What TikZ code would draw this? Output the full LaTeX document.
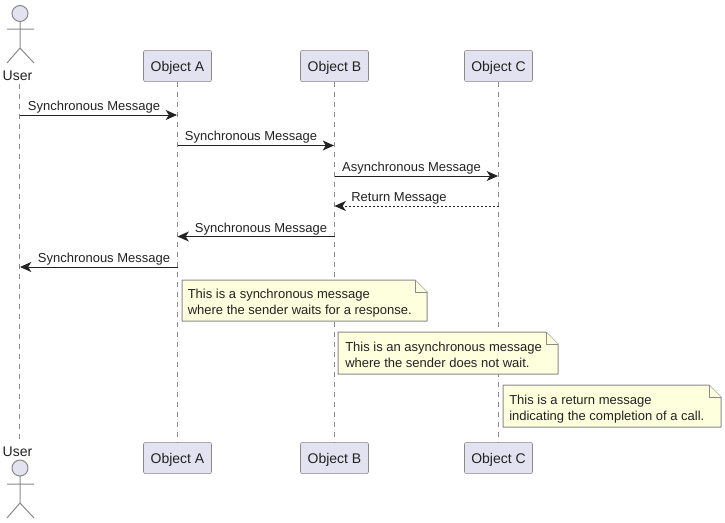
\documentclass[tikz,border=0pt]{standalone}
\usepackage{fontspec}
\setmainfont{Liberation Sans}
\usetikzlibrary{arrows.meta}
\definecolor{boxfill}{HTML}{E2E2F0}
\definecolor{notefill}{HTML}{FEFFDD}
\definecolor{linegray}{HTML}{8A8A8A}
\definecolor{inkdark}{HTML}{222222}
\tikzset{
    objbox/.style = {draw = linegray, fill = boxfill, rounded corners = 1.5pt, minimum width = 51pt, minimum height = 23.5pt, inner sep = 0pt, text = inkdark, text height = 10pt, text depth = 2pt, font = \fontsize{10.5}{12}\selectfont},
    lifeline/.style = {draw = linegray, dash pattern = on 3.75pt off 3.75pt, line width = 0.6pt},
    msg/.style = {draw = inkdark, line width = 0.7pt, -{Stealth[length = 8.5pt, width = 7.5pt, inset = 2.4pt]}},
    msgtext/.style = {text = inkdark, inner sep = 0pt, font = \fontsize{9.75}{11}\selectfont},
    actorname/.style = {text = inkdark, inner sep = 0pt, font = \fontsize{10.5}{12}\selectfont},
    actorline/.style = {draw = linegray, line width = 0.75pt},
    notebox/.style = {draw = linegray, fill = notefill, line width = 0.75pt, line join = round},
    notetext/.style = {text = inkdark, inner sep = 0pt, align = left, anchor = west, font = \fontsize{9.75}{12.5}\selectfont}
}
\begin{document}
\begin{tikzpicture}[x = 0.75pt, y = -0.75pt]
    \useasboundingbox (0,0) rectangle (725,522);

    % Lifeline heads and feet
    \node [actorname] (usertop) at (17.5,76) {User};
    \node [objbox] (objAtop) at (177.5,66) {Object A};
    \node [objbox] (objBtop) at (334.5,66) {Object B};
    \node [objbox] (objCtop) at (498.5,66) {Object C};
    \node [actorname] (userbot) at (17.5,452) {User};
    \node [objbox] (objAbot) at (177.5,458) {Object A};
    \node [objbox] (objBbot) at (334.5,458) {Object B};
    \node [objbox] (objCbot) at (498.5,458) {Object C};

    % Draw lifelines
    \coordinate (userA) at (19.5,84);
    \coordinate (userB) at (19.5,442);
    \draw [lifeline] (userA) -- (userB);
    \draw [lifeline] (objAtop.south) -- (objAbot.north);
    \draw [lifeline] (objBtop.south) -- (objBbot.north);
    \draw [lifeline] (objCtop.south) -- (objCbot.north);

    % Draw actors
    \draw [actorline, fill = boxfill] (20,13.5) circle [radius = 6pt];
    \draw [actorline] (20,21.5) -- (20,48) -- ++(-13,15) (20,48) -- ++(14,15) (7,29) -- (34,29);
    \draw [actorline, fill = boxfill] (20,468) circle [radius = 6pt];
    \draw [actorline] (20,476) -- (20,503) -- ++(-13,15) (20,503) -- ++(14,15) (7,484) -- (34,484);

    % Draw messages
    \coordinate (m1s) at (19.5,115);
    \coordinate (m1e) at (177,115);
    \coordinate (m2s) at (177.5,145.5);
    \coordinate (m2e) at (334,145.5);
    \coordinate (m3s) at (334.5,176);
    \coordinate (m3e) at (498,176);
    \coordinate (m4s) at (498.5,206);
    \coordinate (m4e) at (334.5,206);
    \coordinate (m5s) at (334.5,236.5);
    \coordinate (m5e) at (177.5,236.5);
    \coordinate (m6s) at (177.5,267);
    \coordinate (m6e) at (20,267);
    \draw [msg] (m1s) -- (m1e);
    \draw [msg] (m2s) -- (m2e);
    \draw [msg] (m3s) -- (m3e);
    \draw [msg, dash pattern = on 1.5pt off 1.5pt] (m4s) -- (m4e);
    \draw [msg] (m5s) -- (m5e);
    \draw [msg] (m6s) -- (m6e);

    % Message labels
    \node [msgtext] (lab1) at (94,107) {Synchronous Message};
    \node [msgtext] (lab2) at (251,137.5) {Synchronous Message};
    \node [msgtext] (lab3) at (411.5,168) {Asynchronous Message};
    \node [msgtext] (lab4) at (399,198) {Return Message};
    \node [msgtext] (lab5) at (261,229) {Synchronous Message};
    \node [msgtext] (lab6) at (104,259.5) {Synchronous Message};

    % Draw notes
    \draw [notebox] (182,280) -- (415,280) -- (427,292) -- (427,321) -- (182,321) -- cycle;
    \draw [notebox] (415,280) -- (415,292) -- (427,292);
    \node [notetext] (note1) at (187.5,303) {This is a synchronous message\\where the sender waits for a response.};
    \draw [notebox] (338,332) -- (546,332) -- (558,344) -- (558,374) -- (338,374) -- cycle;
    \draw [notebox] (546,332) -- (546,344) -- (558,344);
    \node [notetext] (note2) at (345,355) {This is an asynchronous message\\where the sender does not wait.};
    \draw [notebox] (503,385) -- (709,385) -- (721,397) -- (721,427) -- (503,427) -- cycle;
    \draw [notebox] (709,385) -- (709,397) -- (721,397);
    \node [notetext] (note3) at (509,409) {This is a return message\\indicating the completion of a call.};
\end{tikzpicture}
\end{document}
